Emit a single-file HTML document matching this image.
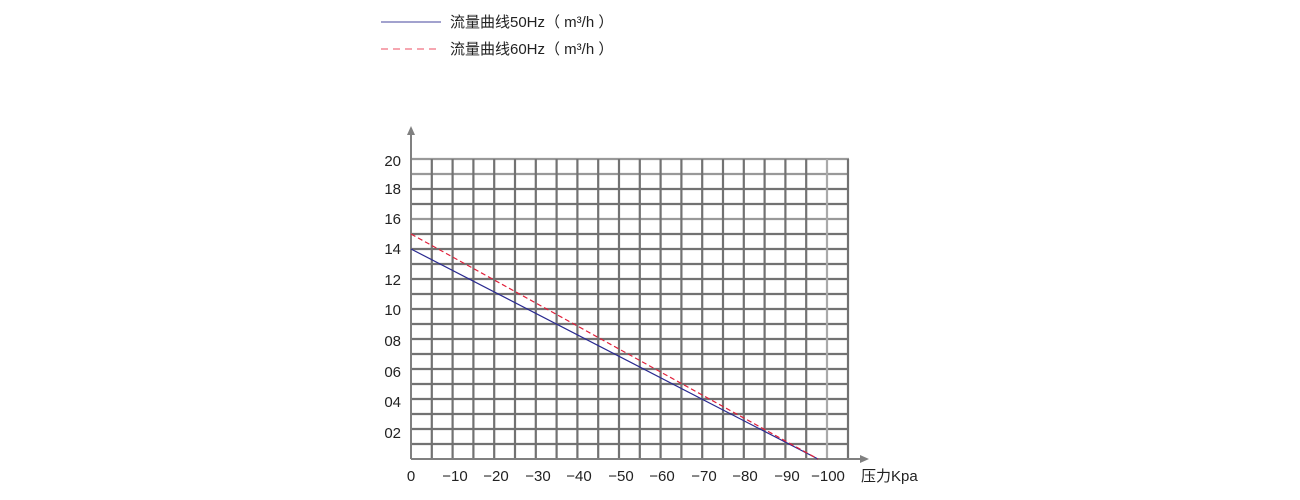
<!DOCTYPE html>
<html><head><meta charset="utf-8"><style>
body{margin:0;background:#fff;}
svg{display:block;}
text{font-family:"Liberation Sans","Noto Sans CJK SC",sans-serif;fill:#222;}
</style></head><body>
<svg width="1300" height="500" viewBox="0 0 1300 500">
<line x1="381" y1="22" x2="441" y2="22" stroke="#6a6ab0" stroke-width="1.3"/>
<text x="450" y="27" font-size="15">流量曲线50Hz（ m³/h ）</text>
<line x1="381" y1="49" x2="441" y2="49" stroke="#f07080" stroke-width="1.3" stroke-dasharray="7,5"/>
<text x="450" y="54" font-size="15">流量曲线60Hz（ m³/h ）</text>
<g stroke="#727272" stroke-width="2.2">
<line x1="411" y1="159" x2="849" y2="159" stroke="#999"/>
<line x1="411" y1="174" x2="849" y2="174" stroke="#999"/>
<line x1="411" y1="189" x2="849" y2="189"/>
<line x1="411" y1="204" x2="849" y2="204"/>
<line x1="411" y1="219" x2="849" y2="219" stroke="#999"/>
<line x1="411" y1="234" x2="849" y2="234"/>
<line x1="411" y1="249" x2="849" y2="249"/>
<line x1="411" y1="264" x2="849" y2="264"/>
<line x1="411" y1="279" x2="849" y2="279"/>
<line x1="411" y1="294" x2="849" y2="294"/>
<line x1="411" y1="309" x2="849" y2="309"/>
<line x1="411" y1="324" x2="849" y2="324"/>
<line x1="411" y1="339" x2="849" y2="339"/>
<line x1="411" y1="354" x2="849" y2="354"/>
<line x1="411" y1="369" x2="849" y2="369"/>
<line x1="411" y1="384" x2="849" y2="384"/>
<line x1="411" y1="399" x2="849" y2="399"/>
<line x1="411" y1="414" x2="849" y2="414"/>
<line x1="411" y1="429" x2="849" y2="429"/>
<line x1="411" y1="444" x2="849" y2="444"/>
<line x1="431.8" y1="159" x2="431.8" y2="459"/>
<line x1="452.6" y1="159" x2="452.6" y2="459"/>
<line x1="473.4" y1="159" x2="473.4" y2="459"/>
<line x1="494.2" y1="159" x2="494.2" y2="459"/>
<line x1="515" y1="159" x2="515" y2="459"/>
<line x1="535.8" y1="159" x2="535.8" y2="459"/>
<line x1="556.6" y1="159" x2="556.6" y2="459"/>
<line x1="577.4" y1="159" x2="577.4" y2="459"/>
<line x1="598.2" y1="159" x2="598.2" y2="459"/>
<line x1="619" y1="159" x2="619" y2="459"/>
<line x1="639.8" y1="159" x2="639.8" y2="459"/>
<line x1="660.6" y1="159" x2="660.6" y2="459"/>
<line x1="681.4" y1="159" x2="681.4" y2="459"/>
<line x1="702.2" y1="159" x2="702.2" y2="459"/>
<line x1="723" y1="159" x2="723" y2="459"/>
<line x1="743.8" y1="159" x2="743.8" y2="459"/>
<line x1="764.6" y1="159" x2="764.6" y2="459"/>
<line x1="785.4" y1="159" x2="785.4" y2="459"/>
<line x1="806.2" y1="159" x2="806.2" y2="459"/>
<line x1="827" y1="159" x2="827" y2="459" stroke="#aaa"/>
<line x1="848" y1="159" x2="848" y2="459"/>
</g>
<g stroke="#808080" stroke-width="2">
<line x1="411" y1="459" x2="862" y2="459"/>
<line x1="411" y1="459" x2="411" y2="134"/>
</g>
<polygon points="411,126 407,135 415,135" fill="#808080"/>
<polygon points="869,459 860,455 860,463" fill="#808080"/>
<line x1="411" y1="249" x2="818" y2="459" stroke="#2a2a90" stroke-width="1.2"/>
<line x1="411" y1="234" x2="818" y2="459" stroke="#e0203a" stroke-width="1.2" stroke-dasharray="5,3"/>
<g font-size="15" text-anchor="end">
<text x="401" y="166">20</text><text x="401" y="194">18</text><text x="401" y="224">16</text>
<text x="401" y="254">14</text><text x="401" y="285">12</text><text x="401" y="315">10</text>
<text x="401" y="346">08</text><text x="401" y="377">06</text><text x="401" y="407">04</text>
<text x="401" y="438">02</text>
</g>
<g font-size="15" text-anchor="middle">
<text x="411" y="481">0</text><text x="455" y="481">−10</text><text x="496" y="481">−20</text>
<text x="538" y="481">−30</text><text x="579" y="481">−40</text><text x="621" y="481">−50</text>
<text x="662" y="481">−60</text><text x="704" y="481">−70</text><text x="745" y="481">−80</text>
<text x="787" y="481">−90</text><text x="828" y="481">−100</text>
</g>
<text x="861" y="481" font-size="15">压力Kpa</text>
</svg>
</body></html>
